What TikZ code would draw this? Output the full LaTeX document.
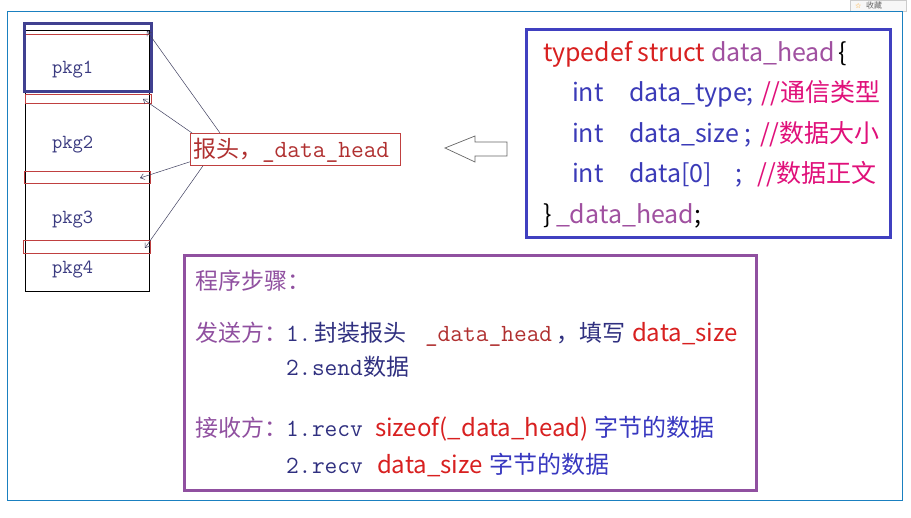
\documentclass[tikz,border=0pt]{standalone}
\usepackage{fontspec}
\usetikzlibrary{arrows.meta}
\newfontfamily\cjk{Noto Sans CJK SC}
\newfontfamily\djv{DejaVu Sans}
\newcommand{\monofam}{\ttfamily}
\definecolor{frameblue}{HTML}{1A80C0}
\definecolor{pkgtxt}{HTML}{3A3A80}
\definecolor{pkgbox}{HTML}{404090}
\definecolor{hdrred}{HTML}{C04040}
\definecolor{labred}{HTML}{B03030}
\definecolor{conn}{HTML}{404060}
\definecolor{structblue}{HTML}{4040C0}
\definecolor{kwred}{HTML}{D82020}
\definecolor{kwpurple}{HTML}{A050A0}
\definecolor{cmtmag}{HTML}{E0107A}
\definecolor{intblue}{HTML}{3B3BB8}
\definecolor{steppurple}{HTML}{9050A0}
\definecolor{stepblue}{HTML}{303080}
\definecolor{sansblue}{HTML}{3838C0}
\tikzset{
  txt/.style={anchor=base west, inner sep=0pt, outer sep=0pt},
  pkgfont/.style={txt, text=pkgtxt, font=\monofam\fontsize{20}{20}\selectfont},
  hdrbox/.style={draw=hdrred, line width=0.8pt},
  connector/.style={draw=conn, line width=0.5pt, -{Straight Barb[length=4pt,width=6pt]}},
  sfont/.style={txt, font=\cjk\fontsize{25}{26}\selectfont},
  cjkstep/.style={txt, font=\cjk\fontsize{23}{24}\selectfont},
  monostep/.style={txt, font=\monofam\fontsize{24.7}{25}\selectfont},
  sstep/.style={txt, font=\cjk\fontsize{24}{25}\selectfont},
}
\begin{document}
\begin{tikzpicture}[x=1pt,y=-1pt]
\useasboundingbox (0,0) rectangle (911,518);
\fill[white] (0,0) rectangle (911,518);
% browser button fragment
\draw[draw=black!20, fill=black!3] (850,0) rectangle (906,11);
\node[anchor=west, inner sep=0pt, text=orange!80!yellow, font=\djv\fontsize{7}{7}\selectfont] (star) at (855,5.5) {☆};
\node[anchor=west, inner sep=0pt, text=black!60, font=\cjk\fontsize{8}{8}\selectfont] (fav) at (866,5.5) {收藏};
% outer frame
\draw[frameblue, line width=1pt] (7.5,11.5) rectangle (902.5,500.5);
% package stack
\draw[black, line width=1pt] (25,31) rectangle (149,292);
\draw[hdrbox] (25,23) rectangle (150,34);
\draw[hdrbox] (25,94) rectangle (151,103);
\draw[hdrbox] (24,171) rectangle (150,183);
\draw[hdrbox] (23,240) rectangle (150,253);
\draw[pkgbox, line width=3pt] (24.5,23.5) rectangle (151,91.5);
\node[pkgfont] (p1) at (52,74) {pkg1};
\node[pkgfont] (p2) at (52,149) {pkg2};
\node[pkgfont] (p3) at (52,224) {pkg3};
\node[pkgfont] (p4) at (52,274) {pkg4};
% header label
\node[hdrbox, minimum width=210pt, minimum height=32pt, inner sep=0pt, anchor=north west] (lab) at (190,133) {};
\node[txt, text=labred] (labtxt) at (193,158) {{\cjk\fontsize{23}{24}\selectfont 报头，}{\monofam\fontsize{24.7}{25}\selectfont \_data\_head}};
\coordinate (t1) at (147,31);
\coordinate (t2) at (143,99);
\coordinate (t3) at (140,178);
\coordinate (t4) at (145,248);
\draw[connector] ([xshift=30pt]lab.north west) -- (t1);
\draw[connector] ([xshift=2pt]lab.north west) -- (t2);
\draw[connector] ([yshift=4pt]lab.south west) -- (t3);
\draw[connector] ([xshift=13pt]lab.south west) -- (t4);
% hollow arrow
\draw[black!60, line width=0.7pt, fill=white] (445,148) -- (475,136) -- (475,142) -- (507,142) -- (507,156) -- (475,156) -- (475,162) -- cycle;
% struct box
\draw[structblue, line width=3pt] (526,30) rectangle (890,238);
\node[sfont, text=kwred] (r1a) at (543,62) {typedef struct};
\node[sfont, text=kwpurple] (r1b) at (711,62) {data\_head};
\node[sfont, text=black] (r1c) at (838,62) {\{};
\node[sfont, text=intblue] (r2a) at (572,102) {int};
\node[sfont, text=intblue] (r2b) at (629,102) {data\_type;};
\node[sfont, text=cmtmag] (r2c) at (761,102) {//通信类型};
\node[sfont, text=intblue] (r3a) at (572,143) {int};
\node[sfont, text=intblue] (r3b) at (629,143) {data\_size ;};
\node[sfont, text=cmtmag] (r3c) at (760,143) {//数据大小};
\node[sfont, text=intblue] (r4a) at (572,183) {int};
\node[sfont, text=intblue] (r4b) at (629,183) {data[0]};
\node[sfont, text=intblue] (r4s) at (735,183) {;};
\node[sfont, text=cmtmag] (r4c) at (757,183) {//数据正文};
\node[sfont, text=black] (r5a) at (543,224) {\}};
\node[sfont, text=kwpurple] (r5b) at (556,224) {\_data\_head};
\node[sfont, text=black] (r5c) at (694,224) {;};
% steps box
\draw[steppurple, line width=3pt] (184,256) rectangle (756,491);
\node[cjkstep, text=steppurple] (s0) at (195,290) {程序步骤：};
\node[cjkstep, text=steppurple] (s1) at (195,342) {发送方：};
\node[monostep, text=stepblue] (s1n) at (286,342) {1.};
\node[cjkstep, text=stepblue] (s1a) at (314,342) {封装报头};
\node[monostep, text=labred] (s1b) at (425,342) {\_data\_head};
\node[cjkstep, text=stepblue] (s1c) at (556,342) {，填写};
\node[sstep, text=kwred] (s1d) at (632,342) {data\_size};
\node[monostep, text=stepblue] (s2n) at (286,376) {2.};
\node[monostep, text=stepblue] (s2a) at (312,376) {send};
\node[cjkstep, text=stepblue] (s2b) at (363,376) {数据};
\node[cjkstep, text=steppurple] (s3) at (195,437) {接收方：};
\node[monostep, text=stepblue] (s3n) at (286,437) {1.};
\node[monostep, text=stepblue] (s3a) at (312,437) {recv};
\node[sstep, text=kwred] (s3b) at (375,437) {sizeof(\_data\_head)};
\node[sstep, text=sansblue] (s3c) at (594,437) {字节的数据};
\node[monostep, text=stepblue] (s4n) at (286,474) {2.};
\node[monostep, text=stepblue] (s4a) at (312,474) {recv};
\node[sstep, text=kwred] (s4b) at (377,474) {data\_size};
\node[sstep, text=sansblue] (s4c) at (489,474) {字节的数据};
\end{tikzpicture}
\end{document}
